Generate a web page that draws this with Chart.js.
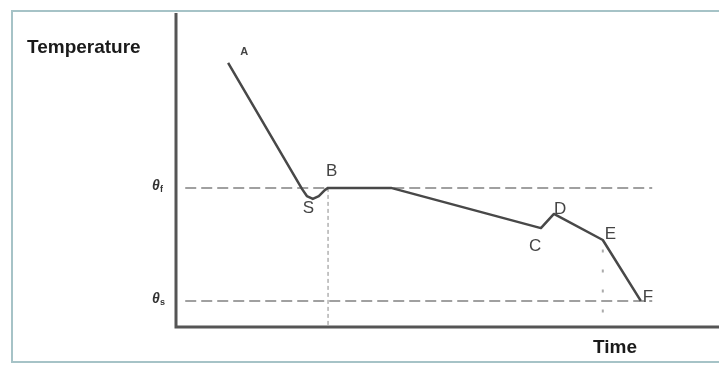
<!DOCTYPE html>
<html>
<head>
<meta charset="utf-8">
<script src="https://cdn.jsdelivr.net/npm/chart.js@4.4.1/dist/chart.umd.min.js"></script>
<style>
  html, body { margin: 0; padding: 0; background: #fff; }
  #wrap { width: 719px; height: 365px; }
</style>
</head>
<body>
<div id="wrap"><canvas id="coolingChart" width="719" height="365"></canvas></div>
<script>
// cooling curve, time and temperature on relative 0..100 scales
const curveTime = [9.6, 23.2, 24.1, 25.2, 26.3, 27.4, 28.0, 39.6, 67.2, 69.6, 78.6, 85.6];
const curveTemp = [84.1, 44.0, 41.7, 40.8, 41.7, 43.6, 44.3, 44.3, 31.5, 36.0, 27.7, 8.3];
const pointNames = ['A', '', '', 'S', '', '', 'B', '', 'C', 'D', 'E', 'F'];

const thetaF = 44.3;
const thetaS = 8.3;
const guideFrom = 1.7;
const guideTo = 87.7;

const xy = (x, y) => ({ x, y });

// where each letter sits relative to its point: dx, dy, size, weight
const nameOffsets = {
    A: [12, -8, 11, 'bold '], S: [-10, 14, 17, ''], B: [-2, -12, 17, ''], C: [-12, 23, 17, ''],
    D: [0, 0, 17, ''], E: [2, -1, 17, ''], F: [2, 1, 17, ''],
};

const FONT = '"Liberation Sans", Arial, sans-serif';

const decorations = {
    id: 'decorations',
    beforeDraw(chart) {
        const c = chart.ctx;
        c.save();
        c.fillStyle = '#fff';
        c.fillRect(0, 0, chart.width, chart.height);
        c.strokeStyle = '#a6c3c7';
        c.lineWidth = 2;
        c.strokeRect(12, 11, chart.width + 10, 351);
        c.restore();
    },
    afterDatasetsDraw(chart) {
        const c = chart.ctx;
        const area = chart.chartArea;
        const xs = chart.scales.x, ys = chart.scales.y;
        c.save();

        // axes
        c.strokeStyle = '#555';
        c.lineWidth = 3;
        c.beginPath();
        c.moveTo(area.left, area.top);
        c.lineTo(area.left, area.bottom);
        c.lineTo(chart.width, area.bottom);
        c.stroke();

        // axis titles
        c.fillStyle = '#1a1a1a';
        c.font = 'bold 19px ' + FONT;
        c.textBaseline = 'alphabetic';
        c.textAlign = 'left';
        c.fillText('Temperature', 27, 53);
        c.fillText('Time', 593, 353);

        // theta labels on the guide levels
        [[thetaF, 'f'], [thetaS, 's']].forEach(([v, sub]) => {
            const py = ys.getPixelForValue(v);
            c.fillStyle = '#333';
            c.font = 'italic bold 14px ' + FONT;
            c.fillText('θ', 152, py + 2);
            c.font = 'bold 9px ' + FONT;
            c.fillText(sub, 160, py + 4);
        });

        // point letters
        c.fillStyle = '#444';
        pointNames.forEach((name, i) => {
            if (!name) return;
            const [dx, dy, size, weight] = nameOffsets[name];
            const px = xs.getPixelForValue(curveTime[i]);
            const py = ys.getPixelForValue(curveTemp[i]);
            c.font = weight + size + 'px ' + FONT;
            c.fillText(name, px + dx, py + dy);
        });
        c.restore();
    },
};

const ctx = document.getElementById('coolingChart').getContext('2d');
const coolingChart = new Chart(ctx, {
    type: 'scatter',
    data: {
        datasets: [{
            label: 'cooling curve',
            data: curveTime.map((t, i) => xy(t, curveTemp[i])),
            showLine: true,
            borderColor: '#484848',
            borderWidth: 2.5,
            borderJoinStyle: 'round',
            pointRadius: 0,
            clip: false,
        }, {
            label: 'theta f',
            data: [xy(guideFrom, thetaF), xy(guideTo, thetaF)],
            showLine: true,
            borderColor: '#a0a0a0',
            borderWidth: 2,
            borderDash: [11, 5],
            pointRadius: 0,
        }, {
            label: 'theta s',
            data: [xy(guideFrom, thetaS), xy(guideTo, thetaS)],
            showLine: true,
            borderColor: '#a0a0a0',
            borderWidth: 2,
            borderDash: [11, 5],
            pointRadius: 0,
        }, {
            label: 'B drop',
            data: [xy(curveTime[6], thetaF), xy(curveTime[6], 0)],
            showLine: true,
            borderColor: '#8a8a8a',
            borderWidth: 1,
            borderDash: [4, 3],
            pointRadius: 0,
        }, {
            label: 'E drop',
            data: [xy(curveTime[10], curveTemp[10] - 3), xy(curveTime[10], 0)],
            showLine: true,
            borderColor: '#aaaaaa',
            borderWidth: 2,
            borderDash: [3, 17],
            pointRadius: 0,
        }],
    },
    options: {
        responsive: false,
        animation: false,
        events: [],
        layout: { padding: { left: 176, top: 13, right: 0, bottom: 38 } },
        scales: {
            x: { type: 'linear', min: 0, max: 100, display: false },
            y: { type: 'linear', min: 0, max: 100, display: false },
        },
        plugins: {
            legend: { display: false },
            tooltip: { enabled: false },
        },
    },
    plugins: [decorations],
});
</script>
</body>
</html>
